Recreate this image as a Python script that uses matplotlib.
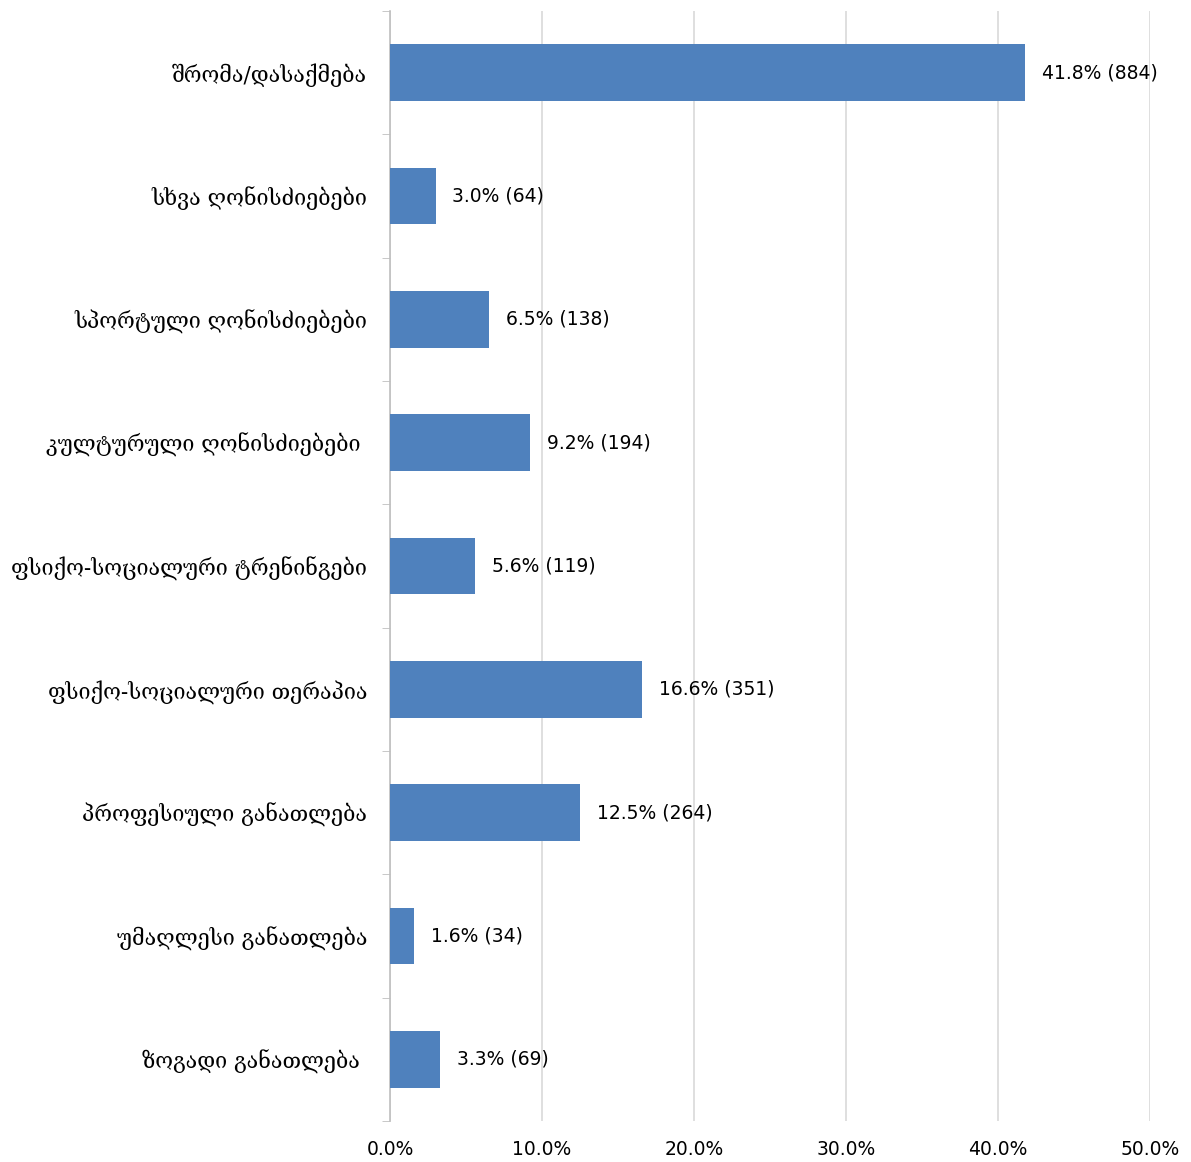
import numpy as np
import matplotlib.pyplot as plt

# data, top to bottom
categories = ["შრომა/დასაქმება", "სხვა ღონისძიებები", "სპორტული ღონისძიებები",
              "კულტურული ღონისძიებები ", "ფსიქო-სოციალური ტრენინგები",
              "ფსიქო-სოციალური თერაპია", "პროფესიული განათლება",
              "უმაღლესი განათლება", "ზოგადი განათლება "]
percents = [41.8, 3.0, 6.5, 9.2, 5.6, 16.6, 12.5, 1.6, 3.3]
counts = [884, 64, 138, 194, 119, 351, 264, 34, 69]
xticks = [0, 10, 20, 30, 40, 50]

fig = plt.figure(figsize=(11.91, 11.62), dpi=100)
ax = fig.add_axes([0.3275, 0.0353, 0.9656 - 0.3275, 0.9905 - 0.0353])

y = np.arange(len(categories))
ax.barh(y, percents, height=0.46, color="#4F81BD", zorder=3)
ax.set_ylim(len(categories) - 0.5, -0.5)
ax.set_xlim(0, 50)

for yi, p, c in zip(y, percents, counts):
    ax.text(p + 1.1, yi, f"{p:.1f}% ({c})", va="center", ha="left",
            fontsize=13.5, family="DejaVu Sans", color="black")

ax.set_yticks(y)
ax.set_yticklabels(categories, fontsize=15.5, family=["DejaVu Serif", "DejaVu Sans"])
ax.tick_params(axis="y", which="major", length=0, pad=16.5)
ax.set_yticks(np.arange(len(categories) + 1) - 0.5, minor=True)
ax.tick_params(axis="y", which="minor", length=6, color="#BFBFBF")

ax.set_xticks(xticks)
ax.set_xticklabels([f"{v:.1f}%" for v in xticks], fontsize=13.5, family="DejaVu Sans")
ax.tick_params(axis="x", length=0, pad=14)
ax.grid(axis="x", color="#D9D9D9", linewidth=1.2, zorder=0)

for s in ["top", "right", "bottom"]:
    ax.spines[s].set_visible(False)
ax.spines["left"].set_color("#BFBFBF")
ax.spines["left"].set_linewidth(1.2)

fig.savefig("out.png", dpi=100)
